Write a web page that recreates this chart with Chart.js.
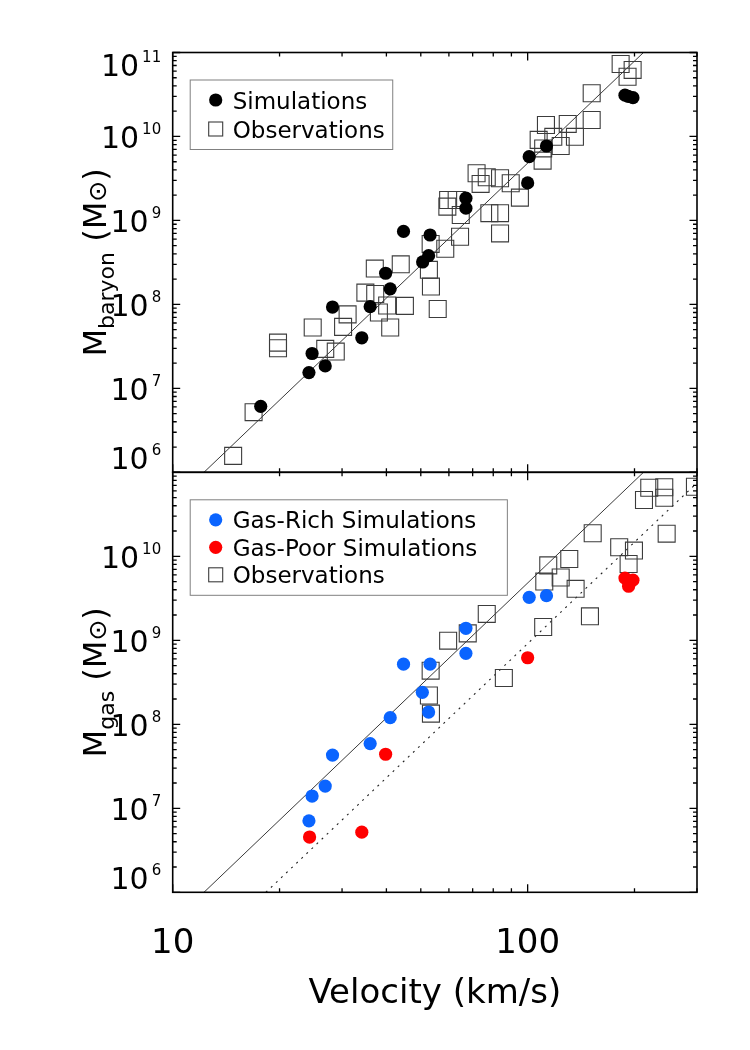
<!DOCTYPE html>
<html>
<head>
<meta charset="utf-8">
<title>Mass vs velocity</title>
<script src="https://cdn.jsdelivr.net/npm/chart.js@4.4.1/dist/chart.umd.min.js"></script>
<style>
  html, body { margin: 0; padding: 0; background: #fff; }
  #wrap { position: relative; width: 750px; height: 1050px; }
  #wrap canvas { position: absolute; left: 0; top: 0; }
</style>
</head>
<body>
<div id="wrap">
  <canvas id="chart-baryon" width="750" height="1050"></canvas>
  <canvas id="chart-gas" width="750" height="1050"></canvas>
</div>
<script>
// ---- top panel: baryonic mass ----
const simVelocity = [17.7, 24.2, 24.7, 26.9, 28.2, 34.1, 36.0, 39.8, 41.0, 44.7, 50.6, 52.6, 53.1, 67.0, 67.0, 100, 101, 113, 188, 192, 198];
const simBaryonMass = [6.1e6, 1.54e7, 2.6e7, 1.85e7, 9.3e7, 4.0e7, 9.4e7, 2.35e8, 1.53e8, 7.4e8, 3.2e8, 3.8e8, 6.7e8, 1.84e9, 1.4e9, 2.8e9, 5.75e9, 7.7e9, 3.1e10, 3.0e10, 2.9e10];

const obsVelocityTop = [14.8, 16.9, 19.8, 19.8, 24.8, 26.9, 28.8, 30.2, 31.1, 34.9, 37.1, 37.2, 38.1, 40.2, 41.0, 43.9, 45.1, 52.7, 53.4, 55.8, 53.3, 58.6, 59.4, 59.7, 63.1, 64.8, 64.5, 71.8, 73.7, 76.7, 78.0, 83.6, 83.6, 83.6, 89.6, 95.1, 112.6, 107.4, 110.6, 110.2, 118.1, 123.9, 129.7, 135.9, 151.5, 151.5, 182.8, 197.6, 191.2];
const obsBaryonMass = [1.57e6, 5.2e6, 3.5e7, 3.0e7, 5.3e7, 2.95e7, 2.74e7, 5.4e7, 7.6e7, 1.38e8, 2.67e8, 1.33e8, 8.0e7, 9.7e7, 5.3e7, 3.0e8, 9.6e7, 2.58e8, 1.63e8, 8.8e7, 5.25e8, 4.6e8, 1.46e9, 1.75e9, 1.75e9, 1.16e9, 6.4e8, 3.65e9, 2.72e9, 3.27e9, 1.22e9, 1.22e9, 7.0e8, 3.18e9, 2.77e9, 1.87e9, 1.37e10, 9.1e9, 7.2e9, 5.15e9, 9.9e9, 7.7e9, 1.41e10, 9.9e9, 3.27e10, 1.57e10, 7.3e10, 6.2e10, 5.15e10];

// ---- bottom panel: gas mass ----
const richVelocity = [24.2, 24.7, 26.9, 28.2, 36.0, 41.0, 44.7, 50.5, 52.6, 53.1, 67.0, 67.0, 101, 113];
const richGasMass = [7.1e6, 1.4e7, 1.84e7, 4.3e7, 5.9e7, 1.2e8, 5.2e8, 2.4e8, 1.4e8, 5.2e8, 1.39e9, 7.0e8, 3.25e9, 3.4e9];

const poorVelocity = [24.3, 34.1, 39.8, 100, 188, 198, 192.5];
const poorGasMass = [4.55e6, 5.2e6, 4.4e7, 6.2e8, 5.5e9, 5.2e9, 4.4e9];

const obsVelocityBottom = [59.7, 53.3, 52.7, 53.4, 67.8, 76.7, 85.7, 110.6, 114.3, 111.4, 123.9, 131.0, 136.5, 152.5, 149.8, 181.1, 199.3, 192.5, 212.7, 220.1, 242.6, 242.6, 246.4, 296];
const obsGasMass = [9.9e8, 4.35e8, 2.2e8, 1.34e8, 1.21e9, 2.06e9, 3.56e8, 1.44e9, 7.8e9, 5.0e9, 5.6e9, 9.3e9, 4.1e9, 1.88e10, 1.93e9, 1.28e10, 1.17e10, 8.1e9, 4.68e10, 6.54e10, 6.63e10, 4.97e10, 1.86e10, 6.74e10];

// ---- relations ----
const fitVelocity = [12.25, 212];
const fitMass = [1e6, 1e11];
const gasFitVelocity = [18.3, 300];
const gasFitMass = [1e6, 7.5e10];

// ---- axes ----
const xRange = [10, 300];
const yRange = [1e6, 1e11];
const xTickValues = [10, 100];
const xTickLabels = ['10', '100'];
const yExponentsTop = [6, 7, 8, 9, 10, 11];
const yExponentsBottom = [6, 7, 8, 9, 10];

const FONT = '"DejaVu Sans", "Liberation Sans", sans-serif';
const colors = {
  sim: '#000000',
  rich: '#0a64ff',
  poor: '#ff0000',
  obs: '#3c3c3c',
  line: '#222222',
  legendBox: '#808080'
};

function points(xs, ys) {
  return xs.map((v, i) => ({ x: v, y: ys[i] }));
}

function obsSet(xs, ys) {
  return {
    label: 'Observations',
    data: points(xs, ys),
    pointStyle: 'rect',
    pointRadius: 12,
    backgroundColor: 'rgba(0,0,0,0)',
    borderColor: colors.obs,
    borderWidth: 1.1,
    clip: 0,
    order: 2,
    legendRank: 9
  };
}

function circleSet(label, xs, ys, color, rank) {
  return {
    label,
    data: points(xs, ys),
    pointStyle: 'circle',
    pointRadius: 6.6,
    backgroundColor: color,
    borderColor: color,
    borderWidth: 0,
    clip: 0,
    order: 1,
    legendRank: rank
  };
}

function lineSet(xs, ys, dash) {
  return {
    data: points(xs, ys),
    showLine: true,
    pointRadius: 0,
    borderColor: colors.line,
    borderWidth: dash.length ? 1.1 : 0.9,
    borderDash: dash,
    clip: 0,
    order: 3
  };
}

function logTicks(min, max) {
  const out = [];
  for (let e = Math.floor(Math.log10(min)); Math.pow(10, e) <= max * 1.001; e++) {
    for (let m = 1; m < 10; m++) {
      const v = m * Math.pow(10, e);
      if (v >= min * 0.999 && v <= max * 1.001) out.push({ v, major: m === 1 });
    }
  }
  return out;
}

function drawYTitle(ctx, x, cy, sub) {
  const parts = [
    { t: 'M', f: 32, dy: 0 },
    { t: sub, f: 22, dy: 8 },
    { t: ' (M', f: 32, dy: 0 },
    { t: '\u2299', f: 25, dy: 0 },
    { t: ')', f: 32, dy: 0 }
  ];
  ctx.save();
  ctx.translate(x, cy);
  ctx.rotate(-Math.PI / 2);
  ctx.textAlign = 'left';
  ctx.textBaseline = 'alphabetic';
  let total = 0;
  parts.forEach(p => { ctx.font = p.f + 'px ' + FONT; p.w = ctx.measureText(p.t).width; total += p.w; });
  let u = -total / 2;
  parts.forEach(p => {
    ctx.font = p.f + 'px ' + FONT;
    ctx.fillText(p.t, u, p.dy);
    u += p.w;
  });
  ctx.restore();
}

function drawLegend(chart) {
  const { ctx, chartArea: a } = chart;
  const items = chart.data.datasets
    .filter(ds => ds.label)
    .sort((p, q) => p.legendRank - q.legendRank);
  const left = a.left + 17.5;
  const top = a.top + 27.5;
  const rowH = items.length > 2 ? 27.5 : 29;
  ctx.save();
  ctx.font = '23px ' + FONT;
  let maxW = 0;
  items.forEach(ds => { maxW = Math.max(maxW, ctx.measureText(ds.label).width); });
  const boxW = 42.5 + maxW + (items.length > 2 ? 30 : 8);
  const boxH = 20 + rowH * (items.length - 1) + 20.5;
  ctx.strokeStyle = colors.legendBox;
  ctx.lineWidth = 1;
  ctx.strokeRect(left, top, boxW, boxH);
  items.forEach((ds, i) => {
    const cy = top + 20 + i * rowH;
    const sx = left + 25.5;
    if (ds.pointStyle === 'rect') {
      ctx.strokeStyle = ds.borderColor;
      ctx.lineWidth = 1.1;
      ctx.strokeRect(sx - 7, cy - 7, 14, 14);
    } else {
      ctx.fillStyle = ds.backgroundColor;
      ctx.beginPath();
      ctx.arc(sx, cy, 6.6, 0, Math.PI * 2);
      ctx.fill();
    }
    ctx.fillStyle = '#000';
    ctx.textAlign = 'left';
    ctx.textBaseline = 'alphabetic';
    ctx.fillText(ds.label, left + 42.5, cy + 8.5);
  });
  ctx.restore();
}

function panelFrame(cfg) {
  return {
    id: 'panelFrame',
    afterDatasetsDraw(chart) {
      const { ctx, chartArea: a } = chart;
      const xs = chart.scales.x;
      const ys = chart.scales.y;
      ctx.save();
      ctx.strokeStyle = '#000';
      ctx.lineWidth = 1.6;
      ctx.strokeRect(a.left, a.top, a.right - a.left, a.bottom - a.top);

      ctx.lineWidth = 1.3;
      ctx.beginPath();
      logTicks(xRange[0], xRange[1]).forEach(t => {
        const px = xs.getPixelForValue(t.v);
        const len = t.major ? 8 : 4;
        ctx.moveTo(px, a.bottom); ctx.lineTo(px, a.bottom - len);
        ctx.moveTo(px, a.top); ctx.lineTo(px, a.top + len);
      });
      logTicks(yRange[0], yRange[1]).forEach(t => {
        const py = ys.getPixelForValue(t.v);
        const len = t.major ? 7.5 : 4;
        ctx.moveTo(a.left, py); ctx.lineTo(a.left + len, py);
        ctx.moveTo(a.right, py); ctx.lineTo(a.right - len, py);
      });
      ctx.stroke();

      // y tick labels, 10 with exponent
      ctx.fillStyle = '#000';
      ctx.textAlign = 'left';
      ctx.textBaseline = 'alphabetic';
      const right = a.left - 11.5;
      cfg.yExponents.forEach(e => {
        let py = ys.getPixelForValue(Math.pow(10, e));
        if (Math.abs(py - a.top) < 1) py += 11;
        else if (Math.abs(py - a.bottom) < 1) py -= 15;
        const sup = String(e);
        ctx.font = '15px ' + FONT;
        const ws = ctx.measureText(sup).width;
        ctx.fillText(sup, right - ws, py - 2);
        ctx.font = '30px ' + FONT;
        const wb = ctx.measureText('10').width;
        ctx.fillText('10', right - ws - 3 - wb, py + 12);
      });

      drawYTitle(ctx, 106, (a.top + a.bottom) / 2, cfg.ySub);

      if (cfg.xLabels) {
        ctx.font = '34px ' + FONT;
        ctx.textAlign = 'center';
        xTickValues.forEach((v, i) => {
          ctx.fillText(xTickLabels[i], xs.getPixelForValue(v), a.bottom + 60.5);
        });
        ctx.fillText('Velocity (km/s)', (a.left + a.right) / 2, a.bottom + 110.5);
      }
      ctx.restore();
      drawLegend(chart);
    }
  };
}

function makePanel(canvasId, datasets, padTop, padBottom, cfg) {
  return new Chart(document.getElementById(canvasId), {
    type: 'scatter',
    data: { datasets },
    options: {
      responsive: false,
      animation: false,
      events: [],
      layout: { padding: { left: 172.7, right: 53, top: padTop, bottom: padBottom } },
      plugins: { legend: { display: false }, tooltip: { enabled: false } },
      scales: {
        x: { type: 'logarithmic', min: xRange[0], max: xRange[1], display: false },
        y: { type: 'logarithmic', min: yRange[0], max: yRange[1], display: false }
      }
    },
    plugins: [panelFrame(cfg)]
  });
}

makePanel('chart-baryon', [
  lineSet(fitVelocity, fitMass, []),
  obsSet(obsVelocityTop, obsBaryonMass),
  circleSet('Simulations', simVelocity, simBaryonMass, colors.sim, 1)
], 52.5, 1050 - 472.3, { yExponents: yExponentsTop, ySub: 'baryon', xLabels: false });

makePanel('chart-gas', [
  lineSet(fitVelocity, fitMass, []),
  lineSet(gasFitVelocity, gasFitMass, [2, 5]),
  obsSet(obsVelocityBottom, obsGasMass),
  circleSet('Gas-Rich Simulations', richVelocity, richGasMass, colors.rich, 1),
  circleSet('Gas-Poor Simulations', poorVelocity, poorGasMass, colors.poor, 2)
], 472.3, 1050 - 892.3, { yExponents: yExponentsBottom, ySub: 'gas', xLabels: true });
</script>
</body>
</html>
